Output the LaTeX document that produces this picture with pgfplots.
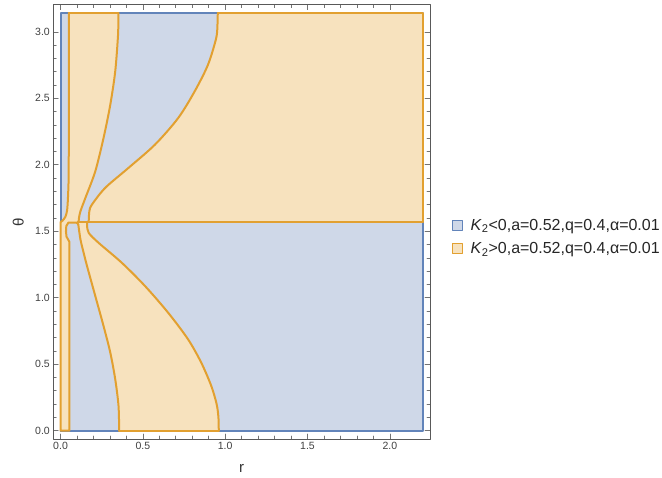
\documentclass[border=0pt]{standalone}
\usepackage{fontspec}
\setmainfont{Liberation Sans}
\usepackage{pgfplots}
\pgfplotsset{compat=1.18}
\definecolor{bluefill}{RGB}{207,216,232}
\definecolor{blueline}{RGB}{98,132,186}
\definecolor{orangefill}{RGB}{247,226,190}
\definecolor{orangeline}{RGB}{226,160,48}
\begin{document}
\begin{tikzpicture}
\useasboundingbox (0,0) rectangle (662pt,478pt);
\begin{axis}[
  at={(53.3pt,39pt)}, anchor=south west,
  scale only axis, width=376.7pt, height=434.3pt,
  xmin=-0.044, xmax=2.244, ymin=-0.0628, ymax=3.2044,
  xtick={0,0.5,1,1.5,2}, ytick={0,0.5,1,1.5,2,2.5,3},
  minor x tick num=4, minor y tick num=4,
  tick align=inside,
  major tick length=5pt, minor tick length=3pt,
  every tick/.style={black!55, line width=0.6pt},
  axis line style={black!65, line width=0.8pt},
  /pgf/number format/assume math mode=true,
  /pgf/number format/fixed, /pgf/number format/fixed zerofill, /pgf/number format/precision=1,
  ticklabel style={font=\fontsize{10.5}{12}\selectfont, text=black!75},
  xlabel={r}, ylabel={θ},
  label style={font=\fontsize{15}{18}\selectfont, text=black!80},
  xlabel style={at={([yshift=-29pt]axis description cs:0.5,0)}, anchor=center},
  ylabel style={at={([xshift=-35pt]axis description cs:0,0.5)}, anchor=center},
  legend style={draw=none, fill=none, inner sep=0pt, at={(1.057,0.465)}, anchor=west,
    font=\fontsize{16}{19}\selectfont, row sep=7pt, text=black!85,
    /tikz/every odd column/.append style={column sep=6pt}},
  legend cell align=left,
  legend image code/.code={\draw[#1, line width=0.9pt] (0pt,-5pt) rectangle (10pt,5pt);},
  line join=round, line cap=round,
  bd/.style={draw=orangeline, line width=2pt, forget plot},
]
% background: K2<0 region
\addplot[fill=bluefill, draw=blueline, line width=2pt, forget plot] coordinates {
  (0,0) (2.2,0) (2.2,3.1416) (0,3.1416) (0,0)};

% orange fills
\addplot[fill=orangefill, draw=none, forget plot] coordinates {
  (0,0) (0.054,0) (0.054,1.42) (0.036,1.46) (0.033,1.50) (0.035,1.54) (0.048,1.565)
  (0.095,1.565) (0.104,1.558) (0.108,1.55) (0.121,1.438) (0.140,1.34) (0.161,1.238)
  (0.211,1.013) (0.261,0.788) (0.302,0.588) (0.332,0.388) (0.352,0.188) (0.356,0)
  (0.961,0) (0.959,0.1) (0.948,0.2) (0.915,0.338) (0.854,0.513) (0.774,0.688)
  (0.653,0.888) (0.513,1.088) (0.372,1.263) (0.231,1.413) (0.171,1.488) (0.161,1.545)
  (0.163,1.5708) (0,1.5708)};
\addplot[fill=orangefill, draw=none, forget plot] coordinates {
  (0.003,1.5708) (0.012,1.58) (0.030,1.61) (0.040,1.66) (0.045,1.75) (0.049,1.9)
  (0.050,3.1416) (0.352,3.1416) (0.351,3.05) (0.348,2.951) (0.332,2.701) (0.302,2.451)
  (0.261,2.201) (0.211,1.951) (0.151,1.751) (0.121,1.651) (0.112,1.60) (0.110,1.5708)};
\addplot[fill=orangefill, draw=none, forget plot] coordinates {
  (0.171,1.5708) (0.175,1.651) (0.191,1.701) (0.271,1.826) (0.412,1.976) (0.573,2.151)
  (0.714,2.351) (0.814,2.551) (0.895,2.751) (0.945,2.951) (0.953,3.05) (0.955,3.1416)
  (2.2,3.1416) (2.2,1.5708)};

% orange borders: straight parts
\addplot[bd] coordinates {(0,1.5708) (0,0) (0.054,0) (0.054,1.42)
  (0.036,1.46) (0.033,1.50) (0.035,1.54) (0.048,1.565) (0.095,1.565) (0.104,1.558) (0.108,1.55)};
\addplot[bd] coordinates {(0.356,0) (0.961,0)};
\addplot[bd] coordinates {(0.104,1.5708) (2.2,1.5708)};
\addplot[bd] coordinates {(0.050,3.1416) (0.352,3.1416)};
\addplot[bd] coordinates {(0.955,3.1416) (2.2,3.1416) (2.2,1.5708)};
% orange borders: curves
\addplot[bd, smooth] coordinates {
  (0.108,1.55) (0.121,1.438) (0.140,1.34) (0.161,1.238) (0.211,1.013) (0.261,0.788)
  (0.302,0.588) (0.332,0.388) (0.352,0.188) (0.356,0)};
\addplot[bd, smooth] coordinates {
  (0.961,0) (0.959,0.1) (0.948,0.2) (0.915,0.338) (0.854,0.513) (0.774,0.688)
  (0.653,0.888) (0.513,1.088) (0.372,1.263) (0.231,1.413) (0.171,1.488) (0.161,1.545)
  (0.163,1.5708)};
\addplot[bd, smooth] coordinates {
  (0.003,1.5708) (0.012,1.58) (0.030,1.61) (0.040,1.66) (0.045,1.75) (0.049,1.9)
  (0.050,2.2) (0.050,3.1416)};
\addplot[bd, smooth] coordinates {
  (0.352,3.1416) (0.351,3.05) (0.348,2.951) (0.332,2.701) (0.302,2.451)
  (0.261,2.201) (0.211,1.951) (0.151,1.751) (0.121,1.651) (0.112,1.60) (0.110,1.5708)};
\addplot[bd, smooth] coordinates {
  (0.171,1.5708) (0.175,1.651) (0.191,1.701) (0.271,1.826) (0.412,1.976) (0.573,2.151)
  (0.714,2.351) (0.814,2.551) (0.895,2.751) (0.945,2.951) (0.953,3.05) (0.955,3.1416)};

\addlegendimage{fill=bluefill, draw=blueline}
\addlegendentry{\textit{K}\textsubscript{2}<0,a=0.52,q=0.4,α=0.01}
\addlegendimage{fill=orangefill, draw=orangeline}
\addlegendentry{\textit{K}\textsubscript{2}>0,a=0.52,q=0.4,α=0.01}
\end{axis}
\end{tikzpicture}
\end{document}
